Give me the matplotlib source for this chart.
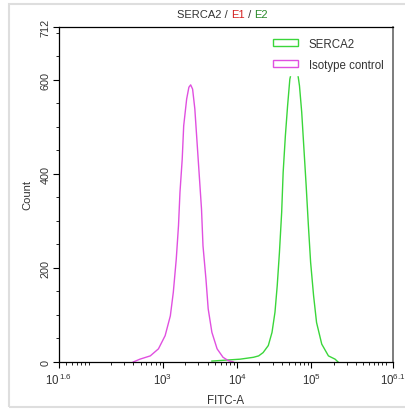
import numpy as np
import matplotlib
matplotlib.use("Agg")
import matplotlib.pyplot as plt
from matplotlib.patches import Patch, Rectangle

plt.rcParams['font.family'] = ['Liberation Sans', 'DejaVu Sans']
plt.rcParams['mathtext.fontset'] = 'custom'
plt.rcParams['mathtext.rm'] = 'Liberation Sans'
plt.rcParams['mathtext.default'] = 'regular'

# Histogram outlines (log10 of FITC-A, count)
isotype_log = [2.60, 2.69, 2.83, 2.94, 3.03, 3.10, 3.14, 3.18, 3.21, 3.23, 3.26, 3.28,
               3.32, 3.35, 3.374, 3.40, 3.43, 3.46, 3.49, 3.52, 3.54, 3.58, 3.61, 3.66,
               3.73, 3.81, 3.88, 3.95]
isotype_count = [0, 6, 13, 28, 56, 98, 148, 219, 290, 361, 431, 502,
                 559, 584, 589, 580, 538, 467, 396, 325, 247, 176, 113, 63,
                 28, 10, 3, 0]

serca2_log = [3.66, 4.04, 4.22, 4.29, 4.35, 4.42, 4.47, 4.51, 4.54, 4.57, 4.60, 4.62,
              4.65, 4.68, 4.71, 4.735, 4.77, 4.811, 4.84, 4.87, 4.90, 4.93, 4.96, 4.99,
              5.03, 5.07, 5.14, 5.23, 5.32, 5.36]
serca2_count = [2, 6, 10, 13, 20, 35, 63, 106, 162, 233, 318, 403,
                481, 545, 601, 619, 660, 619, 587, 531, 453, 375, 290, 212,
                141, 84, 38, 13, 6, 0]

x_ticks_log = [1.6, 3, 4, 5, 6.1]
x_tick_labels = ['10$^{\\,1.6}$', '10$^{3}$', '10$^{4}$', '10$^{5}$', '10$^{6.1}$']
y_ticks = [0, 200, 400, 600, 712]

green = '#3ad63a'
magenta = '#e050e0'
fs = 7.5

fig = plt.figure(figsize=(4.05, 4.10), dpi=100)
W, H = 405, 410

# light grey frame around the whole panel
fig.patches.append(Rectangle((9 / W, 2 / H), 1.2, (405 - 2) / H, transform=fig.transFigure,
                             fill=False, edgecolor='#dedede', linewidth=1.5))

ax = fig.add_axes([59 / W, (H - 363) / H, (393 - 59) / W, (363 - 28) / H])

ax.plot(10 ** np.array(serca2_log), serca2_count, color=green, lw=1.0, label='SERCA2')
ax.plot(10 ** np.array(isotype_log), isotype_count, color=magenta, lw=1.0, label='Isotype control')

ax.set_xscale('log')
ax.set_xlim(10 ** 1.6, 10 ** 6.1)
ax.set_ylim(0, 712)

ax.set_xticks([10 ** v for v in x_ticks_log])
ax.set_xticklabels(x_tick_labels, fontsize=fs + 0.8, color='#333333')
minor = [k * 10 ** n for n in range(1, 7) for k in range(1, 10)
         if 10 ** 1.6 < k * 10 ** n < 10 ** 6.1]
ax.set_xticks(minor, minor=True)
ax.set_xticklabels([], minor=True)

ax.set_yticks(y_ticks)
ax.set_yticklabels([str(v) for v in y_ticks], fontsize=fs + 0.3, color='#333333',
                   rotation=90, va='center')
ax.set_yticks(np.arange(50, 712, 50), minor=True)

ax.tick_params(axis='both', which='major', direction='out', length=4, width=0.8, pad=2)
ax.tick_params(axis='both', which='minor', direction='out', length=2.5, width=0.6)
ax.tick_params(axis='x', which='major', pad=3)

for s in ['left', 'top', 'bottom']:
    ax.spines[s].set_linewidth(0.9)
ax.spines['right'].set_color('#666666')
ax.spines['right'].set_linewidth(1.2)

ax.set_xlabel('FITC-A', fontsize=fs + 0.8, color='#333333', labelpad=5)
ax.set_ylabel('Count', fontsize=fs + 0.5, color='#333333', labelpad=6)

handles = [Patch(facecolor='white', edgecolor=green, linewidth=1.0),
           Patch(facecolor='white', edgecolor=magenta, linewidth=1.0)]
leg = ax.legend(handles, ['SERCA2', 'Isotype control'], loc='upper left',
                bbox_to_anchor=((269 - 59) / (393 - 59), 1 - (35 - 28) / (363 - 28)),
                fontsize=fs + 0.8, frameon=True, framealpha=1, edgecolor='white',
                facecolor='white', fancybox=False, handlelength=2.2, handleheight=0.55,
                handletextpad=0.9, labelspacing=0.75, borderpad=0.35, borderaxespad=0)
for t in leg.get_texts():
    t.set_color('#333333')

# multi-coloured title
t1 = fig.text(177 / W, 1 - 15 / H, 'SERCA2 / ', fontsize=fs + 0.5, color='#333333',
              ha='left', va='center')
t2 = fig.text(0, 0, 'E1', fontsize=fs + 0.5, color='#d42020', ha='left', va='bottom')
t3 = fig.text(0, 0, ' / ', fontsize=fs + 0.5, color='#333333', ha='left', va='bottom')
t4 = fig.text(0, 0, 'E2', fontsize=fs + 0.5, color='#2a8a2a', ha='left', va='bottom')
fig.canvas.draw()
r = fig.canvas.get_renderer()
prev = t1
for t in (t2, t3, t4):
    bb = prev.get_window_extent(r)
    t.set_position((bb.x1 / fig.bbox.width, bb.y0 / fig.bbox.height))
    fig.canvas.draw()
    prev = t

fig.savefig('out.png', dpi=100)
